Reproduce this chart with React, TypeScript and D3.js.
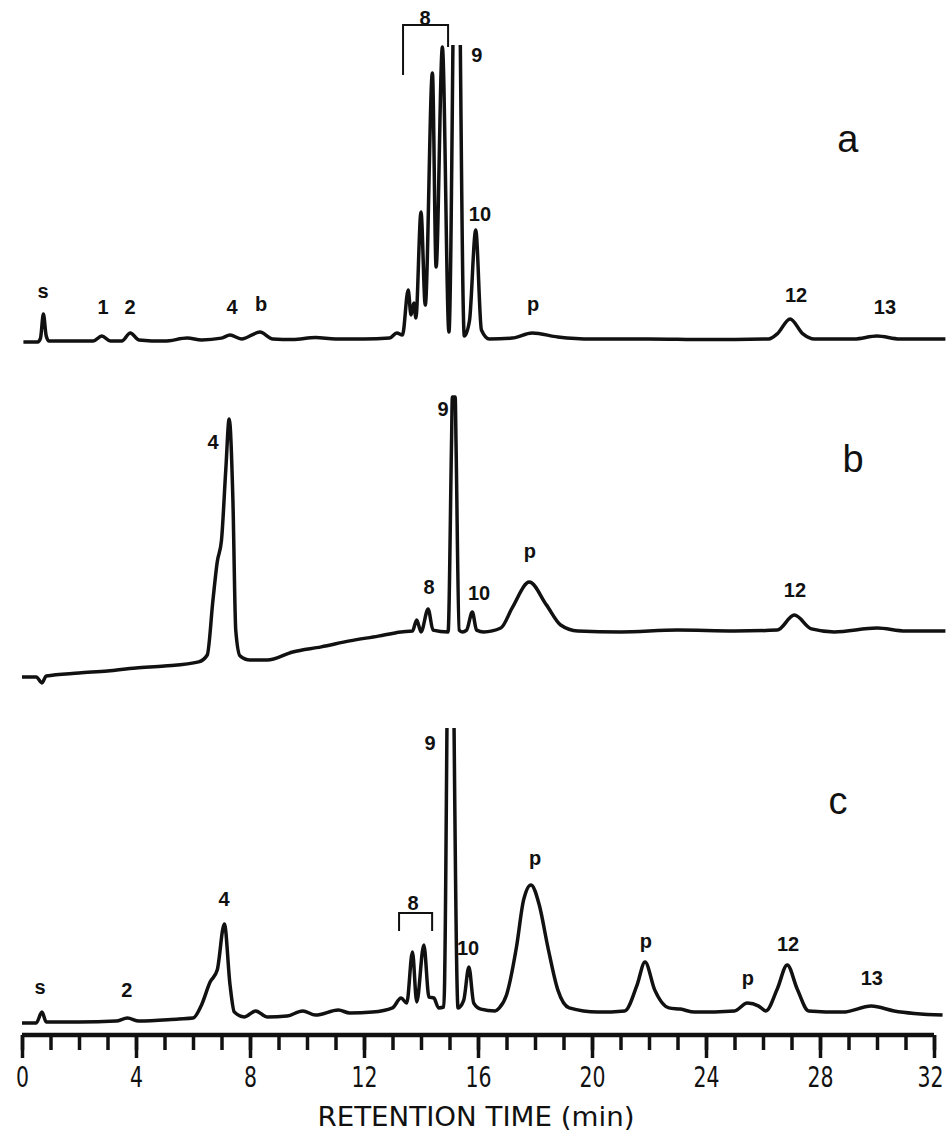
import React, { useEffect, useRef } from "react";
import * as d3 from "d3";

// retention time (min), detector response (arbitrary units, 0..100 per panel)
// NaN marks where the pen ran off the top of the paper
const traceA: [number, number][] = [
  [0.05, 1], [0.55, 1], [0.65, 2.3], [0.75, 10.3], [0.85, 3], [0.95, 1.3],
  [1.6, 1.3], [2.5, 1.3], [2.8, 3], [3.1, 1.3], [3.5, 1.3], [3.8, 4], [4.1, 1.7],
  [5.0, 1.3], [5.8, 2.3], [6.3, 1.7], [7.0, 2.3], [7.3, 3.3], [7.7, 2], [8.35, 4.3],
  [8.8, 2], [9.5, 1.8], [10.3, 2.5], [11, 2], [12, 2], [12.9, 2.3], [13.15, 4],
  [13.35, 3.3], [13.55, 18.3], [13.65, 10], [13.75, 14], [13.82, 9], [14.0, 44.3],
  [14.15, 13.3], [14.4, 90.7], [14.53, 26], [14.75, 99.3], [14.98, 4.3],
  [15.12, 100], [15.24, NaN], [15.38, 100], [15.52, 3], [15.7, 8], [15.92, 38.3],
  [16.12, 5], [16.4, 2], [17.2, 2.3], [17.9, 4], [18.8, 2.7], [20, 2], [22, 2],
  [24, 1.8], [26.2, 2], [26.5, 3.7], [26.95, 8.7], [27.4, 3.7], [27.8, 2],
  [29.2, 2], [30, 3], [30.8, 2], [32.4, 2],
];

const traceB: [number, number][] = [
  [0.0, 2.7], [0.5, 2.7], [0.7, 0.7], [0.85, 3], [2, 4], [3, 4.7], [4, 5.7],
  [5, 6.3], [6.2, 7.7], [6.5, 10], [6.7, 28.3], [6.85, 41], [7.0, 48.3],
  [7.15, 71.7], [7.27, 88.7], [7.4, 61.7], [7.5, 18.3], [7.65, 9.7], [8.0, 8.3],
  [8.6, 8.3], [9.5, 11], [10.5, 12.7], [11.5, 14.7], [12.5, 16.3], [13.3, 17.7],
  [13.7, 18], [13.85, 21.7], [14.0, 17.7], [14.25, 25.3], [14.42, 18.3],
  [14.95, 17.7], [15.07, 80], [15.1, 96], [15.2, 96], [15.23, 80], [15.34, 18.3],
  [15.45, 17.7], [15.6, 18.3], [15.8, 24.3], [15.95, 18.3], [16.2, 17.7],
  [16.8, 19], [17.2, 25.7], [17.8, 34.3], [18.4, 26.7], [18.9, 20], [19.5, 18],
  [21, 17.7], [23, 18.3], [25, 18], [26.5, 18.3], [27.1, 23.3], [27.7, 18.7],
  [28.5, 17.7], [30, 19], [31, 18], [32.4, 18],
];

const traceC: [number, number][] = [
  [0.0, 0.7], [0.5, 0.7], [0.7, 4.3], [0.85, 1], [2, 1], [3.3, 1.3], [3.7, 2.3],
  [4.1, 1.3], [5.5, 2], [6.0, 2.3], [6.3, 6.7], [6.6, 14.3], [6.85, 18.3],
  [7.1, 33.7], [7.3, 13.3], [7.45, 4.3], [7.8, 2.7], [8.2, 4.7], [8.6, 2.7],
  [9.3, 3], [9.85, 4.7], [10.3, 3.3], [11.1, 5], [11.5, 4], [12.3, 4.3],
  [13.0, 5.7], [13.3, 9], [13.5, 7.3], [13.7, 24.3], [13.85, 7.7], [14.1, 26.7],
  [14.28, 9.3], [14.45, 9], [14.62, 5.7], [14.8, 6], [14.91, 99], [15.03, NaN],
  [15.16, 99], [15.3, 5.7], [15.5, 8.3], [15.68, 19.3], [15.85, 7.3],
  [16.1, 5.3], [16.6, 4.7], [16.75, 5.7], [17.0, 10], [17.35, 26], [17.6, 41.7],
  [17.86, 46.7], [18.15, 40], [18.45, 26], [18.8, 11.7], [19.2, 5.7],
  [20.2, 4.3], [21.15, 4.7], [21.58, 13.3], [21.86, 21], [22.2, 11.7],
  [22.7, 5.7], [23.1, 5.3], [23.6, 4.3], [25.0, 4.7], [25.45, 7.3], [25.85, 6.3],
  [26.1, 4.7], [26.5, 12], [26.85, 20], [27.2, 12], [27.6, 4.7], [28.8, 4.3],
  [29.8, 6.3], [30.6, 4.7], [32.3, 3.3],
];

// peak labels: text, retention time, response
const labelsA: [string, number, number][] = [
  ["s", 0.74, 18.3], ["1", 2.84, 12.7], ["2", 3.79, 12.7], ["4", 7.37, 12.7],
  ["b", 8.39, 13.7], ["8", 14.14, 109.3], ["9", 15.96, 96.7], ["10", 16.07, 44],
  ["p", 17.93, 14], ["12", 27.16, 17], ["13", 30.28, 12.7],
];
const labelsB: [string, number, number][] = [
  ["4", 6.7, 81.3], ["8", 14.28, 33], ["9", 14.77, 92.3], ["10", 16.04, 30.7],
  ["p", 17.82, 45], ["12", 27.12, 31.7],
];
const labelsC: [string, number, number][] = [
  ["s", 0.63, 12.7], ["2", 3.68, 11.7], ["4", 7.09, 42.3], ["8", 13.72, 41],
  ["9", 14.32, 94.3], ["10", 15.65, 25.7], ["p", 18.0, 55.7], ["p", 21.89, 28.3],
  ["p", 25.47, 15.7], ["12", 26.88, 27.3], ["13", 29.82, 15.7],
];

// bracket spanning peak group 8: from, to, top, left leg end, right leg end
const bracketA = [13.37, 14.95, 106.7, 90, 99.3];
const bracketC = [13.23, 14.39, 37.3, 31.3, 31.3];

const panelNames = ["a", "b", "c"];
const panelNamePos: [number, number][] = [[28.98, 68.3], [29.16, 75], [28.63, 74.3]];

const majorTicks = d3.range(0, 33, 4);
const minorTicks = d3.range(0, 33, 1);

const App: React.FC = () => {
  const svgRef = useRef<SVGSVGElement>(null);

  const W = 952;
  const H = 1134;

  useEffect(() => {
    const svg = d3.select(svgRef.current);
    svg.selectAll("*").remove();

    const x = d3.scaleLinear().domain([0, 32]).range([22, 934]);
    const bottoms = [345, 685, 1025];
    const traces = [traceA, traceB, traceC];
    const labels = [labelsA, labelsB, labelsC];
    const labelFont = "'Liberation Sans', Arial, sans-serif";

    traces.forEach((tr, i) => {
      const y = d3.scaleLinear().domain([0, 100]).range([bottoms[i], bottoms[i] - 300]);
      const line = d3.line<[number, number]>()
        .defined((d) => !isNaN(d[1]))
        .x((d) => x(d[0]))
        .y((d) => y(d[1]))
        .curve(d3.curveMonotoneX);

      svg.append("path")
        .attr("d", line(tr))
        .attr("fill", "none")
        .attr("stroke", "#111")
        .attr("stroke-width", 3.5)
        .attr("stroke-linejoin", "round")
        .attr("stroke-linecap", "butt");

      svg.append("g")
        .selectAll("text")
        .data(labels[i])
        .join("text")
        .attr("x", (d) => x(d[1]))
        .attr("y", (d) => y(d[2]) + 7.5)
        .attr("text-anchor", "middle")
        .attr("font-family", labelFont)
        .attr("font-weight", "bold")
        .attr("font-size", 20)
        .attr("fill", "#111")
        .text((d) => d[0]);

      svg.append("text")
        .attr("x", x(panelNamePos[i][0]))
        .attr("y", y(panelNamePos[i][1]) + 12)
        .attr("text-anchor", "middle")
        .attr("font-family", labelFont)
        .attr("font-size", 38)
        .attr("fill", "#111")
        .text(panelNames[i]);

      const br = i === 0 ? bracketA : i === 2 ? bracketC : null;
      if (br) {
        svg.append("path")
          .attr("d", `M${x(br[0])},${y(br[3])}V${y(br[2])}H${x(br[1])}V${y(br[4])}`)
          .attr("fill", "none")
          .attr("stroke", "#111")
          .attr("stroke-width", 2);
      }
    });

    // time axis
    const axisY = 1035;
    const narrow = "'Liberation Sans Narrow', 'DejaVu Sans Condensed', 'Liberation Sans', sans-serif";
    const axisMinor = d3.axisBottom(x)
      .tickValues(minorTicks)
      .tickSize(15)
      .tickFormat(() => "");
    const gMinor = svg.append("g").attr("transform", `translate(0,${axisY})`).call(axisMinor);
    gMinor.select(".domain").remove();
    gMinor.selectAll("line").attr("stroke", "#111").attr("stroke-width", 3.5);

    const axisMajor = d3.axisBottom(x)
      .tickValues(majorTicks)
      .tickSize(23)
      .tickPadding(8)
      .tickFormat(d3.format("d"));
    const gMajor = svg.append("g").attr("transform", `translate(0,${axisY})`).call(axisMajor);
    gMajor.select(".domain")
      .attr("d", `M${x(0)},0H${x(32)}`)
      .attr("stroke", "#111")
      .attr("stroke-width", 4.5);
    gMajor.selectAll("line").attr("stroke", "#111").attr("stroke-width", 3.5);
    gMajor.selectAll<SVGTextElement, number>("text")
      .attr("font-family", narrow)
      .attr("font-size", 29)
      .attr("textLength", (d) => String(d).length * 13)
      .attr("lengthAdjust", "spacingAndGlyphs")
      .attr("dx", (d) => (d === 32 ? -4 : 0))
      .attr("fill", "#111");

    svg.append("text")
      .attr("x", 476)
      .attr("y", 1126)
      .attr("text-anchor", "middle")
      .attr("font-family", narrow)
      .attr("font-size", 26)
      .attr("textLength", 317)
      .attr("lengthAdjust", "spacingAndGlyphs")
      .attr("fill", "#111")
      .text("RETENTION TIME (min)");
  }, []);

  return (
    <svg
      ref={svgRef}
      width={W}
      height={H}
      style={{ display: "block", position: "absolute", left: 0, top: 0, background: "#fff" }}
    />
  );
};

export default App;
